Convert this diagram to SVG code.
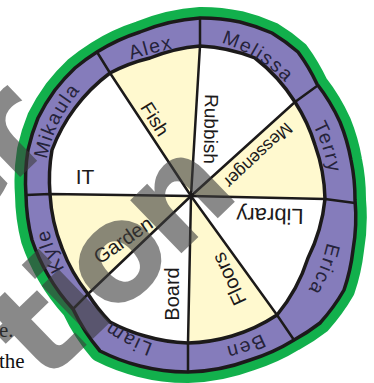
<svg xmlns="http://www.w3.org/2000/svg" width="374" height="383" viewBox="0 0 374 383">
<style>
.green{fill:none;stroke:#12b04c;stroke-width:22;stroke-linejoin:round}
.band{fill:#857cbb;stroke:#1c1a1a;stroke-width:3.5;stroke-linejoin:round}
.disk{fill:#ffffff}
.yel{fill:#fff9cf}
.ring{fill:none;stroke:#1c1a1a;stroke-width:3.5;stroke-linejoin:round}
.spoke{fill:none;stroke:#1c1a1a;stroke-width:2.5;stroke-linecap:round;stroke-linejoin:round}
.name{font-family:"Liberation Sans",Arial,sans-serif;font-size:19.5px;letter-spacing:1.6px;fill:#25233a}
.job{font-family:"Liberation Sans",Arial,sans-serif;font-size:20px;fill:#1c1a1a}
.page{font-family:"Liberation Serif","Times New Roman",serif;font-size:21px;fill:#111}
.wm{font-family:"DejaVu Sans",sans-serif;font-weight:bold;font-size:135px;letter-spacing:-8px;fill:#3c3c3c}
</style>
<defs>
<path id="pAlex" d="M108,68 A400,400 0 0 1 198,44"/>
<path id="pMelissa" d="M200,38 A150,150 0 0 1 300,100"/>
<path id="pTerry" d="M298,102 A150,150 0 0 1 330,201"/>
<path id="pErica" d="M330,201 A150,150 0 0 1 281,323"/>
<path id="pBen" d="M286,318 A150,150 0 0 1 196,350"/>
<path id="pLiam" d="M188,351 A150,150 0 0 1 85,296"/>
<path id="pKyle" d="M85,296 A150,150 0 0 1 44,194.5"/>
<path id="pMikaula" d="M44,194.5 A150,150 0 0 1 107,66"/>
<path id="outerShape" d="M200,18 A190,190 0 0 1 240,22 A190,190 0 0 1 272,33 A190,190 0 0 1 298,52 A190,190 0 0 1 317,84 A190,190 0 0 1 340,122 A190,190 0 0 1 351,160 A190,190 0 0 1 355,200 A190,190 0 0 1 353,250 A190,190 0 0 1 344,290 A190,190 0 0 1 320,323 A190,190 0 0 1 294,340 A190,190 0 0 1 250,360 A190,190 0 0 1 188,372 A190,190 0 0 1 140,366 A190,190 0 0 1 100,351 A190,190 0 0 1 73,309 A190,190 0 0 1 48,275 A190,190 0 0 1 32,240 A190,190 0 0 1 26,195 A190,190 0 0 1 28,150 A190,190 0 0 1 38,118 A190,190 0 0 1 55,90 A190,190 0 0 1 75,68 A190,190 0 0 1 97,52 A190,190 0 0 1 140,32 A190,190 0 0 1 200,18 Z"/>
<path id="innerShape" d="M200,46 A170,170 0 0 1 255,58 A170,170 0 0 1 295,102 A170,170 0 0 1 315,145 A170,170 0 0 1 325,199 A170,170 0 0 1 308,258 A170,170 0 0 1 277,315 A170,170 0 0 1 232,336 A170,170 0 0 1 188,343 A170,170 0 0 1 145,336 A170,170 0 0 1 110,322 A170,170 0 0 1 88,294 A170,170 0 0 1 62,248 A170,170 0 0 1 50,194 A170,170 0 0 1 52,150 A170,170 0 0 1 75,108 A170,170 0 0 1 110,73 A170,170 0 0 1 150,58 A170,170 0 0 1 200,46 Z"/>
</defs>
<rect width="374" height="383" fill="#ffffff"/>
<g id="page-text">
<text class="page" x="-1" y="337">e.</text>
<text class="page" x="-1" y="368">the</text>
</g>
<g id="wheel-rim">
<use href="#outerShape" class="green"/>
<use href="#outerShape" class="band"/>
<use href="#innerShape" class="disk"/>
</g>
<g id="job-sectors">
<path id="sec-fish" class="yel" d="M191,196 L110,73 A170,170 0 0 1 150,58 A170,170 0 0 1 200,46 Z"/>
<path id="sec-messenger" class="yel" d="M191,196 L295,102 A170,170 0 0 1 315,145 A170,170 0 0 1 325,199 Z"/>
<path id="sec-floors" class="yel" d="M191,196 L277,315 A170,170 0 0 1 232,336 A170,170 0 0 1 188,343 Z"/>
<path id="sec-garden" class="yel" d="M191,196 L88,294 A170,170 0 0 1 62,248 A170,170 0 0 1 50,194 Z"/>
<use href="#innerShape" class="ring"/>
</g>
<g id="connectors">
<polyline class="spoke" points="191,196 110,73 97,52"/>
<polyline class="spoke" points="191,196 200,46 200,18"/>
<polyline class="spoke" points="191,196 295,102 317,86"/>
<polyline class="spoke" points="191,196 325,199 355,203"/>
<polyline class="spoke" points="191,196 277,315 294,340"/>
<polyline class="spoke" points="191,196 188,343 188,372"/>
<polyline class="spoke" points="191,196 88,294 73,309"/>
<polyline class="spoke" points="191,196 50,194 26,195"/>
</g>
<g id="names">
<g id="name-alex"><text class="name"><textPath href="#pAlex" startOffset="50%" text-anchor="middle">Alex</textPath></text></g>
<g id="name-melissa"><text class="name"><textPath href="#pMelissa" startOffset="50%" text-anchor="middle">Melissa</textPath></text></g>
<g id="name-terry"><text class="name"><textPath href="#pTerry" startOffset="50%" text-anchor="middle">Terry</textPath></text></g>
<g id="name-erica"><text class="name"><textPath href="#pErica" startOffset="50%" text-anchor="middle">Erica</textPath></text></g>
<g id="name-ben"><text class="name"><textPath href="#pBen" startOffset="50%" text-anchor="middle">Ben</textPath></text></g>
<g id="name-liam"><text class="name"><textPath href="#pLiam" startOffset="50%" text-anchor="middle">Liam</textPath></text></g>
<g id="name-kyle"><text class="name"><textPath href="#pKyle" startOffset="50%" text-anchor="middle">Kyle</textPath></text></g>
<g id="name-mikaula"><text class="name"><textPath href="#pMikaula" startOffset="50%" text-anchor="middle">Mikaula</textPath></text></g>
</g>
<g id="jobs">
<g id="job-fish"><text class="job" style="font-size:19px" transform="translate(155 119) rotate(58)" text-anchor="middle" dy="0.35em">Fish</text></g>
<g id="job-rubbish"><text class="job" style="font-size:19px" transform="translate(211 129) rotate(91)" text-anchor="middle" dy="0.35em">Rubbish</text></g>
<g id="job-messenger"><text class="job" style="font-size:17.5px" transform="translate(258 155) rotate(137)" text-anchor="middle" dy="0.32em">Messenger</text></g>
<g id="job-library"><text class="job" style="font-size:22px" transform="translate(270 216) rotate(181)" text-anchor="middle" dy="0.35em">Library</text></g>
<g id="job-floors"><text class="job" transform="translate(229 279) rotate(245)" text-anchor="middle" dy="0.35em">Floors</text></g>
<g id="job-board"><text class="job" transform="translate(172 294) rotate(-90)" text-anchor="middle" dy="0.35em">Board</text></g>
<g id="job-garden"><text class="job" transform="translate(123 240) rotate(-35)" text-anchor="middle" dy="0.35em">Garden</text></g>
<g id="job-it"><text class="job" style="font-size:21px" transform="translate(85 176)" text-anchor="middle" dy="0.36em">IT</text></g>
</g>
<g id="watermark" opacity="0.6">
<text class="wm" transform="translate(-48 243) rotate(-44)">er</text>
<text class="wm" transform="translate(44 386) rotate(-44)">tion</text>
</g>
</svg>
